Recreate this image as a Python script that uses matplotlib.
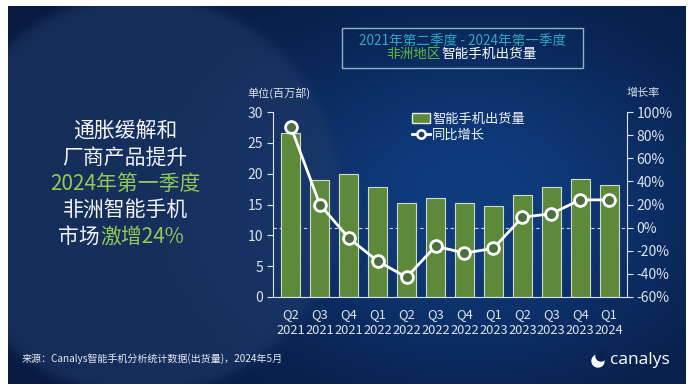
import numpy as np
import matplotlib
matplotlib.use("Agg")
from matplotlib import pyplot as plt
from matplotlib.patches import Rectangle, Circle
from matplotlib.lines import Line2D
from matplotlib.transforms import Affine2D

plt.rcParams['font.family'] = ['Noto Sans CJK SC', 'DejaVu Sans']

QUARTERS = ["Q2", "Q3", "Q4", "Q1", "Q2", "Q3", "Q4", "Q1", "Q2", "Q3", "Q4", "Q1"]
YEARS = ["2021", "2021", "2021", "2022", "2022", "2022", "2022", "2023", "2023", "2023", "2023", "2024"]
shipments = [26.6, 19.0, 19.9, 17.8, 15.3, 16.0, 15.3, 14.7, 16.6, 17.8, 19.1, 18.2]   # 百万部
yoy_growth = [87, 20, -9, -29, -43, -16, -22, -18, 9, 12, 24, 24]                      # %

HEADLINE = ["通胀缓解和", "厂商产品提升", "2024年第一季度", "非洲智能手机"]
GREEN_TXT = "#8fcb57"
WHITE_TXT = "#f2f4f8"
TICK_COL = "#dde3ec"

W, H = 691, 391
fig = plt.figure(figsize=(W / 100, H / 100), dpi=100)
# pixel coordinates, origin top-left
pix = Affine2D().scale(1 / W, -1 / H).translate(0, 1) + fig.transFigure


def rgb(h):
    return np.array([int(h[i:i + 2], 16) for i in (1, 3, 5)]) / 255


# background
yy, xx = np.mgrid[0:H, 0:W]
base = rgb("#071a40")
glow = rgb("#0f3d80")
g = np.exp(-(((xx - 470) / 240) ** 2 + ((yy - 200) / 180) ** 2))
img = base + (glow - base) * g[..., None]
d = np.hypot(xx - 140, yy - 195)
inside = 0.6 / (1 + np.exp((d - 200) / 3))
img = img * (1 - inside[..., None]) + rgb("#1f3a69") * inside[..., None]
img[(xx < 8) | (xx > 685) | (yy < 6) | (yy > 383)] = 1
bg = fig.add_axes([0, 0, 1, 1])
bg.imshow(img, aspect="auto", interpolation="bilinear")
bg.axis("off")

# main chart
ax = fig.add_axes([273 / W, 1 - 297 / H, (627 - 273) / W, (297 - 112) / H])
ax.patch.set_alpha(0)
x = np.arange(len(shipments))
ax.bar(x, shipments, width=0.66, color="#5e893b", edgecolor="#cfdccb", linewidth=0.8, zorder=2)
ax.set_xlim(-0.62, len(x) - 0.38)
ax.set_ylim(0, 30)
ax.set_yticks(range(0, 31, 5))
ax.set_xticks(x)
ax.set_xticklabels([f"{q}\n{y}" for q, y in zip(QUARTERS, YEARS)], linespacing=1.25)
ax.tick_params(axis="y", colors=TICK_COL, labelsize=10, length=4, width=0.8, pad=3)
ax.tick_params(axis="x", colors=TICK_COL, labelsize=9.3, length=0, pad=8)
for s in ("top", "right"):
    ax.spines[s].set_visible(False)
for s in ("left", "bottom"):
    ax.spines[s].set_color(TICK_COL)
    ax.spines[s].set_linewidth(0.8)

ax2 = ax.twinx()
ax2.set_ylim(-60, 100)
ax2.set_yticks(range(-60, 101, 20))
ax2.set_yticklabels([f"{v}%" for v in range(-60, 101, 20)])
ax2.tick_params(axis="y", colors=TICK_COL, labelsize=10, length=4, width=0.8, pad=3)
for s in ("top", "left", "bottom"):
    ax2.spines[s].set_visible(False)
ax2.spines["right"].set_color(TICK_COL)
ax2.spines["right"].set_linewidth(0.8)
# 0% reference line, behind the bars
ax.axhline(30 * 60 / 160, color="#c9d3e3", lw=0.8, ls=(0, (3, 2.5)), zorder=1)
ax2.plot(x, yoy_growth, color="white", lw=2, marker="o", ms=8.5,
         mfc="#4b6f3e", mec="white", mew=2, zorder=5)

handles = [Rectangle((0, 0), 1, 1, facecolor="#5e893b", edgecolor="#e5ecdf", lw=1),
           Line2D([], [], color="white", lw=2, marker="o", ms=6, mfc="#1c3a6a", mec="white", mew=1.8)]
ax2.legend(handles, ["智能手机出货量", "同比增长"], loc="upper left",
           bbox_to_anchor=(405 / W, 1 - 106 / H), bbox_transform=fig.transFigure,
           frameon=False, labelcolor=WHITE_TXT, fontsize=9.5, handlelength=1.4,
           handletextpad=0.15, borderpad=0, labelspacing=0.25)

fig.text(247, 93, "单位(百万部)", transform=pix, color=TICK_COL, fontsize=8, va="center")
fig.text(627, 93, "增长率", transform=pix, color=TICK_COL, fontsize=8, va="center")

# title box
fig.add_artist(Rectangle((342, 68), 241, -40, transform=pix, fill=False,
                         edgecolor="#8db4c4", lw=1))
fig.text(463, 40.5, "2021年第二季度 - 2024年第一季度", transform=pix, ha="center",
         va="center", color="#33a7c4", fontsize=9.8)
fig.text(441, 53.5, "非洲地区", transform=pix, ha="right", va="center", color="#5cbb3c", fontsize=9.8)
fig.text(441, 53.5, "智能手机出货量", transform=pix, ha="left", va="center", color="white", fontsize=9.8)

# headline on the left
for i, line in enumerate(HEADLINE):
    fig.text(125, 131.5 + 26.3 * i, line, transform=pix, ha="center", va="center",
             color=GREEN_TXT if i == 2 else WHITE_TXT, fontsize=15)
fig.text(100, 236.7, "市场", transform=pix, ha="right", va="center", color=WHITE_TXT, fontsize=15)
fig.text(100, 236.7, "激增24%", transform=pix, ha="left", va="center", color=GREEN_TXT, fontsize=15)

# footer
fig.text(22, 359, "来源：Canalys智能手机分析统计数据(出货量)，2024年5月", transform=pix,
         va="center", color="#e6eaf0", fontsize=7.2)
fig.add_artist(Circle((598, 361), 6, transform=pix, color="white"))
fig.add_artist(Circle((601, 356), 5, transform=pix, color="#0a2250"))
fig.text(610, 360, "canalys", transform=pix, va="center", color="white", fontsize=12.5,
         family=["Open Sans", "DejaVu Sans"])

fig.savefig("out.png", dpi=100)
